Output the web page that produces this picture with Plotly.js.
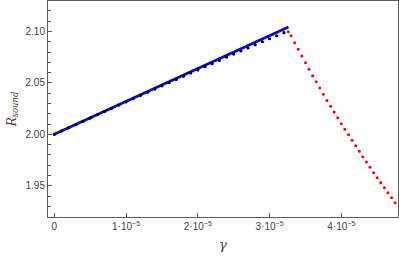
<!DOCTYPE html>
<html>
<head>
<meta charset="utf-8">
<script src="https://cdn.plot.ly/plotly-3.0.1.min.js"></script>
<style>html,body{margin:0;padding:0;background:#fff;}#chart{width:399px;height:257px;}</style>
</head>
<body>
<div id="chart"></div>
<script>
// gamma values in units of 1e-5
const blueGamma = [0, 1.6, 3.264];
const blueR = [2.0, 2.0512, 2.1043];

const blackGamma = [0,0.1,0.2,0.3,0.4,0.5,0.6,0.7,0.8,0.9,1.0,1.1,1.2,1.3,1.4,1.5,1.6,1.7,1.8,1.9,2.0,2.1,2.2,2.3,2.4,2.5,2.6,2.7,2.8,2.9,3.0,3.1,3.2];
const blackR = [2.0000,2.0032,2.0064,2.0094,2.0126,2.0158,2.0190,2.0221,2.0253,2.0284,2.0316,2.0347,2.0378,2.0409,2.0440,2.0471,2.0503,2.0534,2.0565,2.0596,2.0626,2.0657,2.0687,2.0718,2.0749,2.0780,2.0810,2.0840,2.0870,2.0900,2.0929,2.0958,2.0988];

const redGamma = [3.26,3.30,3.35,3.40,3.45,3.50,3.55,3.60,3.65,3.70,3.75,3.80,3.85,3.90,3.95,4.00,4.05,4.10,4.15,4.20,4.25,4.30,4.35,4.40,4.45,4.50,4.55,4.60,4.65,4.70,4.75];
const redR = [2.0997,2.0958,2.0890,2.0826,2.0761,2.0696,2.0632,2.0570,2.0511,2.0450,2.0389,2.0329,2.0273,2.0217,2.0161,2.0103,2.0049,1.9996,1.9942,1.9889,1.9835,1.9782,1.9731,1.9679,1.9627,1.9578,1.9530,1.9481,1.9432,1.9384,1.9335];

const xTickVals = [0, 1, 2, 3, 4];
const xTickText = ['0', '1·10<sup>−5</sup>', '2·10<sup>−5</sup>', '3·10<sup>−5</sup>', '4·10<sup>−5</sup>'];
const yTickVals = [1.95, 2.00, 2.05, 2.10];
const yTickText = ['1.95', '2.00', '2.05', '2.10'];

const traces = [
  {x: blueGamma, y: blueR, mode: 'lines', line: {color: '#0000ff', width: 2.6}, hoverinfo: 'skip'},
  {x: blackGamma, y: blackR, mode: 'markers', marker: {color: '#000000', size: 3.2}, hoverinfo: 'skip'},
  {x: redGamma, y: redR, mode: 'markers', marker: {color: '#ff0000', size: 3}, hoverinfo: 'skip'}
];

const frameColor = '#5a5a5a';
const layout = {
  width: 399, height: 257,
  margin: {l: 48, r: 1, t: 1, b: 40, pad: 0},
  paper_bgcolor: '#fff', plot_bgcolor: '#fff',
  showlegend: false,
  font: {family: 'Liberation Sans, Arial, sans-serif', size: 10, color: '#444'},
  xaxis: {
    range: [-0.088, 4.79],
    tickvals: xTickVals, ticktext: xTickText,
    ticks: 'inside', ticklen: 4, tickcolor: frameColor, tickwidth: 1,
    showline: true, linecolor: frameColor, linewidth: 1, mirror: true,
    showgrid: false, zeroline: false,
    tickfont: {size: 10, color: '#444'},
    title: {text: '<i>γ</i>', font: {family: 'DejaVu Serif, serif', size: 13, color: '#444'}, standoff: 8}
  },
  yaxis: {
    range: [1.9196, 2.1296],
    tickvals: yTickVals, ticktext: yTickText,
    ticks: 'inside', ticklen: 4, tickcolor: frameColor, tickwidth: 1,
    minor: {dtick: 0.01, ticks: 'inside', ticklen: 2.5, tickcolor: frameColor, tickwidth: 1, showgrid: false},
    showline: true, linecolor: frameColor, linewidth: 1, mirror: true,
    showgrid: false, zeroline: false,
    tickfont: {size: 10, color: '#444'},
    title: {text: '<i>R</i><sub><i>sound</i></sub>', font: {family: 'DejaVu Serif, serif', size: 12, color: '#444'}, standoff: 6}
  }
};

Plotly.newPlot('chart', traces, layout, {displayModeBar: false, staticPlot: true});
</script>
</body>
</html>
